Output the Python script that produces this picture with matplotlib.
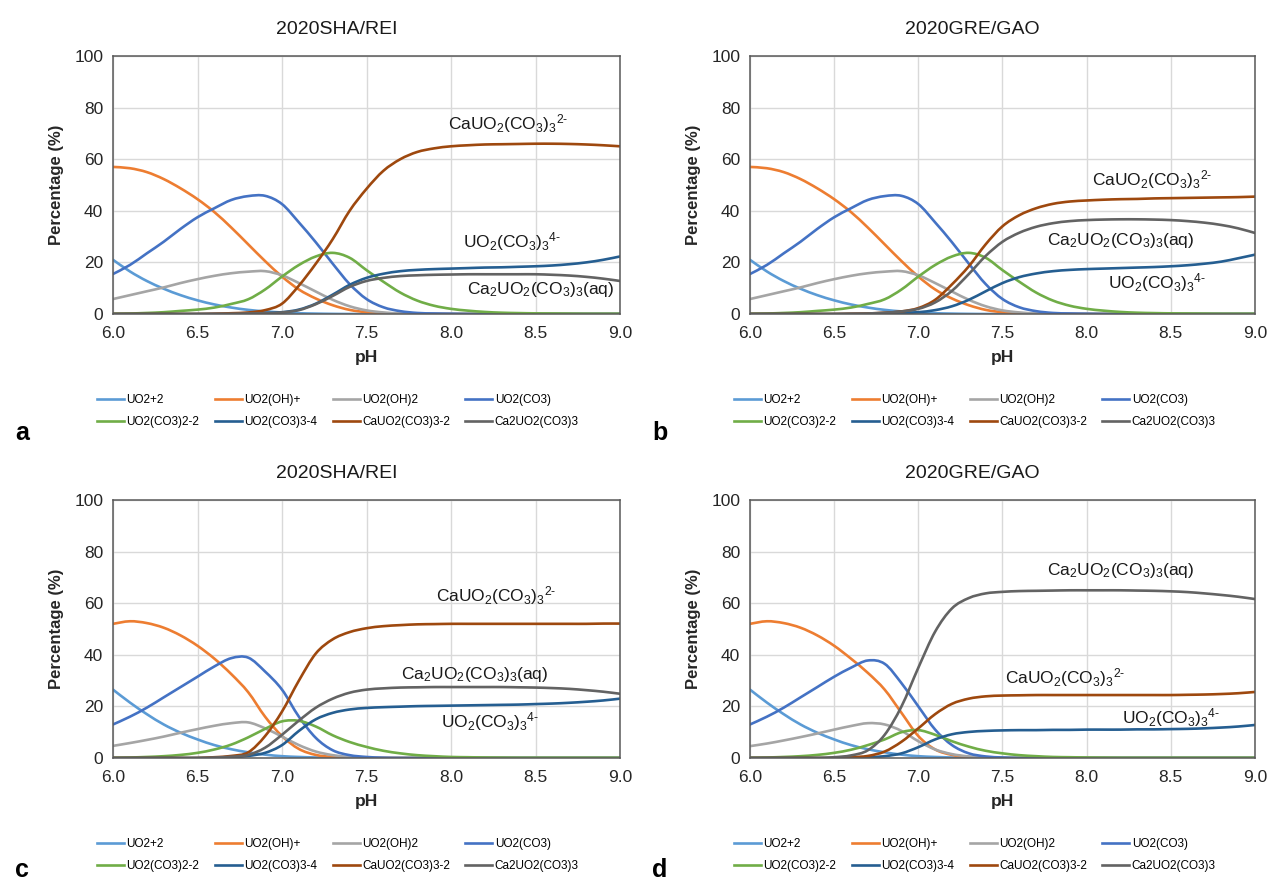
import matplotlib
matplotlib.use("Agg")
import matplotlib.pyplot as plt
from matplotlib.path import Path
from matplotlib.patches import PathPatch
from matplotlib.lines import Line2D

plt.rcParams['font.family'] = ['Liberation Sans', 'DejaVu Sans']
plt.rcParams['mathtext.fontset'] = 'custom'
plt.rcParams['mathtext.rm'] = 'Liberation Sans'
plt.rcParams['mathtext.it'] = 'Liberation Sans'

# pH grid
ph = [6.0, 6.1, 6.2, 6.3, 6.4, 6.5, 6.6, 6.7, 6.8, 6.9, 7.0, 7.1, 7.2, 7.3, 7.4, 7.5,
      7.6, 7.7, 7.8, 7.9, 8.0, 8.1, 8.2, 8.3, 8.4, 8.5, 8.6, 8.7, 8.8, 8.9, 9.0]

species = ['UO2+2', 'UO2(OH)+', 'UO2(OH)2', 'UO2(CO3)',
           'UO2(CO3)2-2', 'UO2(CO3)3-4', 'CaUO2(CO3)3-2', 'Ca2UO2(CO3)3']
colors = ['#5B9BD5', '#ED7D31', '#A5A5A5', '#4472C4',
          '#70AD47', '#255E91', '#9E480E', '#636363']

# panel a  (2020SHA/REI, top)
a_uo2 = [21.0, 16.5, 12.8, 9.8, 7.3, 5.3, 3.7, 2.5, 1.6, 1.0, 0.6, 0.3, 0.15, 0.05,
         0, 0, 0, 0, 0, 0, 0, 0, 0, 0, 0, 0, 0, 0, 0, 0, 0]
a_oh = [57.0, 56.5, 55.0, 52.3, 48.7, 44.5, 39.5, 33.5, 27.0, 20.5, 14.5, 9.5, 6.0, 3.4,
        1.6, 0.7, 0.3, 0.1, 0, 0, 0, 0, 0, 0, 0, 0, 0, 0, 0, 0, 0]
a_oh2 = [5.8, 7.3, 8.8, 10.3, 12.0, 13.5, 14.8, 15.8, 16.4, 16.6, 15.0, 12.0, 8.7, 5.5,
         3.0, 1.4, 0.6, 0.2, 0.1, 0, 0, 0, 0, 0, 0, 0, 0, 0, 0, 0, 0]
a_co3 = [15.5, 19.0, 23.5, 28.0, 33.0, 37.5, 41.0, 44.2, 45.7, 45.8, 42.6, 35.5, 27.8, 19.5,
         11.6, 5.8, 2.6, 1.1, 0.4, 0.2, 0.1, 0, 0, 0, 0, 0, 0, 0, 0, 0, 0]
a_co3_2 = [0.1, 0.2, 0.4, 0.7, 1.2, 1.7, 2.5, 3.9, 5.7, 9.5, 14.5, 19.0, 22.3, 23.7, 21.8,
           17.0, 12.5, 8.3, 5.2, 3.2, 2.0, 1.3, 0.8, 0.5, 0.35, 0.25, 0.2, 0.15, 0.1, 0.1, 0.1]
a_co3_3 = [0, 0, 0, 0, 0, 0, 0.05, 0.1, 0.2, 0.4, 0.7, 1.7, 4.0, 7.5, 11.3, 14.0, 15.6,
           16.6, 17.1, 17.4, 17.6, 17.8, 18.0, 18.1, 18.3, 18.5, 18.8, 19.3, 20.0, 21.0, 22.3]
a_ca = [0, 0, 0, 0, 0, 0, 0.1, 0.3, 0.6, 1.5, 4.0, 11.0, 19.5, 29.0, 40.0, 48.5, 55.5,
        60.0, 62.8, 64.2, 65.0, 65.4, 65.7, 65.8, 65.9, 66.0, 66.0, 65.9, 65.7, 65.4, 65.0]
a_ca2 = [0, 0, 0, 0, 0, 0, 0.05, 0.1, 0.2, 0.3, 0.6, 1.5, 3.8, 7.0, 10.5, 12.8, 14.0,
         14.7, 15.0, 15.2, 15.3, 15.4, 15.4, 15.4, 15.4, 15.4, 15.2, 14.9, 14.4, 13.7, 12.8]

# panel b  (2020GRE/GAO, top) - first five species same as panel a
b_uo2 = a_uo2
b_oh = a_oh
b_oh2 = a_oh2
b_co3 = a_co3
b_co3_2 = a_co3_2
b_co3_3 = [0, 0, 0, 0, 0, 0, 0.05, 0.1, 0.2, 0.3, 0.7, 1.5, 3.0, 5.5, 8.8, 12.0, 14.3,
           15.7, 16.6, 17.1, 17.4, 17.6, 17.8, 18.0, 18.2, 18.5, 18.9, 19.5, 20.3, 21.6, 23.0]
b_ca = [0, 0, 0, 0, 0, 0, 0.1, 0.2, 0.5, 1.0, 2.3, 5.5, 11.5, 18.5, 27.0, 34.0, 38.3,
        41.0, 42.7, 43.6, 44.0, 44.3, 44.5, 44.6, 44.8, 44.9, 45.0, 45.1, 45.2, 45.3, 45.5]
b_ca2 = [0, 0, 0, 0, 0, 0, 0.1, 0.2, 0.5, 1.0, 2.0, 4.5, 9.0, 15.5, 22.5, 28.0, 31.5,
         33.8, 35.2, 36.0, 36.4, 36.6, 36.7, 36.7, 36.6, 36.4, 36.0, 35.4, 34.5, 33.2, 31.4]

# panel c  (2020SHA/REI, bottom)
c_uo2 = [26.5, 21.5, 17.0, 13.0, 9.8, 7.2, 5.0, 3.4, 2.2, 1.3, 0.7, 0.4, 0.2, 0.1,
         0, 0, 0, 0, 0, 0, 0, 0, 0, 0, 0, 0, 0, 0, 0, 0, 0]
c_oh = [52.0, 53.0, 52.3, 50.5, 47.5, 43.5, 38.5, 32.5, 25.5, 16.0, 8.5, 3.5, 1.2, 0.4,
        0.1, 0, 0, 0, 0, 0, 0, 0, 0, 0, 0, 0, 0, 0, 0, 0, 0]
c_oh2 = [4.7, 5.8, 7.0, 8.3, 9.8, 11.2, 12.5, 13.5, 13.8, 11.5, 8.3, 5.0, 2.5, 1.1,
         0.4, 0.1, 0, 0, 0, 0, 0, 0, 0, 0, 0, 0, 0, 0, 0, 0, 0]
c_co3 = [13.0, 16.0, 19.5, 23.5, 27.5, 31.5, 35.5, 38.7, 38.9, 33.5, 26.5, 16.0, 7.8, 3.0,
         1.1, 0.4, 0.1, 0, 0, 0, 0, 0, 0, 0, 0, 0, 0, 0, 0, 0, 0]
c_co3_2 = [0.1, 0.2, 0.4, 0.7, 1.2, 2.0, 3.3, 5.2, 8.0, 11.3, 14.2, 14.4, 12.2, 8.8, 6.2,
           4.3, 2.8, 1.8, 1.1, 0.7, 0.4, 0.3, 0.2, 0.15, 0.1, 0.1, 0.1, 0.1, 0.1, 0.1, 0.1]
c_co3_3 = [0, 0, 0, 0, 0, 0, 0.1, 0.3, 0.8, 2.0, 5.0, 10.5, 15.0, 17.5, 18.8, 19.4, 19.7,
           19.9, 20.1, 20.2, 20.3, 20.4, 20.5, 20.6, 20.7, 20.9, 21.1, 21.4, 21.8, 22.3, 23.0]
c_ca = [0, 0, 0, 0, 0, 0, 0.3, 0.8, 2.2, 8.5, 18.0, 30.0, 40.5, 46.0, 48.8, 50.3, 51.1,
        51.5, 51.8, 51.9, 52.0, 52.0, 52.0, 52.0, 52.0, 52.0, 52.0, 52.0, 52.0, 52.1, 52.1]
c_ca2 = [0, 0, 0, 0, 0, 0, 0.2, 0.5, 1.2, 4.0, 9.0, 14.5, 19.5, 23.0, 25.3, 26.5, 27.0,
         27.3, 27.4, 27.5, 27.5, 27.5, 27.5, 27.5, 27.4, 27.3, 27.1, 26.8, 26.3, 25.7, 24.9]

# panel d  (2020GRE/GAO, bottom)
d_uo2 = c_uo2
d_oh = [52.0, 53.0, 52.3, 50.5, 47.5, 43.5, 38.5, 33.0, 26.5, 17.5, 8.5, 3.3, 1.2, 0.4,
        0.1, 0, 0, 0, 0, 0, 0, 0, 0, 0, 0, 0, 0, 0, 0, 0, 0]
d_oh2 = [4.6, 5.6, 6.8, 8.1, 9.5, 11.0, 12.4, 13.5, 13.0, 10.5, 6.5, 3.3, 1.5, 0.6,
         0.2, 0, 0, 0, 0, 0, 0, 0, 0, 0, 0, 0, 0, 0, 0, 0, 0]
d_co3 = [13.0, 16.0, 19.5, 23.5, 27.5, 31.5, 35.0, 37.8, 36.5, 29.0, 20.0, 11.0, 5.0, 1.8,
         0.6, 0.2, 0, 0, 0, 0, 0, 0, 0, 0, 0, 0, 0, 0, 0, 0, 0]
d_co3_2 = [0.1, 0.2, 0.4, 0.7, 1.2, 2.0, 3.2, 5.0, 7.2, 10.0, 10.8, 9.0, 6.5, 4.4, 2.8,
           1.8, 1.1, 0.7, 0.4, 0.3, 0.2, 0.15, 0.1, 0.1, 0.1, 0.1, 0.1, 0.1, 0.1, 0.1, 0.1]
d_co3_3 = [0, 0, 0, 0, 0, 0, 0.1, 0.3, 0.7, 1.8, 4.2, 7.2, 9.2, 10.1, 10.5, 10.7, 10.8,
           10.8, 10.9, 10.9, 11.0, 11.0, 11.0, 11.1, 11.1, 11.2, 11.3, 11.5, 11.8, 12.2, 12.8]
d_ca = [0, 0, 0, 0, 0, 0, 0.3, 0.8, 2.5, 6.3, 11.5, 17.0, 21.0, 23.0, 23.9, 24.2, 24.3,
        24.4, 24.4, 24.4, 24.4, 24.4, 24.4, 24.4, 24.4, 24.4, 24.5, 24.6, 24.8, 25.1, 25.6]
d_ca2 = [0, 0, 0, 0, 0, 0.3, 1.0, 3.0, 9.0, 20.0, 35.0, 49.0, 58.0, 62.0, 63.8, 64.4,
         64.7, 64.8, 64.9, 65.0, 65.0, 65.0, 65.0, 64.9, 64.8, 64.6, 64.3, 63.8, 63.2, 62.5, 61.6]

lbl_ca = r'CaUO$_2$(CO$_3$)$_3$$^{2\text{-}}$'
lbl_co3_3 = r'UO$_2$(CO$_3$)$_3$$^{4\text{-}}$'
lbl_ca2 = r'Ca$_2$UO$_2$(CO$_3$)$_3$(aq)'

panels = [
    dict(letter='a', title='2020SHA/REI', pos=[113, 56, 507],
         series=[a_uo2, a_oh, a_oh2, a_co3, a_co3_2, a_co3_3, a_ca, a_ca2],
         notes=[(lbl_ca, 8.34, 74), (lbl_co3_3, 8.36, 28), (lbl_ca2, 8.53, 9.5)]),
    dict(letter='b', title='2020GRE/GAO', pos=[750, 56, 505],
         series=[b_uo2, b_oh, b_oh2, b_co3, b_co3_2, b_co3_3, b_ca, b_ca2],
         notes=[(lbl_ca, 8.39, 52), (lbl_ca2, 8.2, 28.5), (lbl_co3_3, 8.42, 12)]),
    dict(letter='c', title='2020SHA/REI', pos=[113, 500, 507],
         series=[c_uo2, c_oh, c_oh2, c_co3, c_co3_2, c_co3_3, c_ca, c_ca2],
         notes=[(lbl_ca, 8.27, 63), (lbl_ca2, 8.14, 32.5), (lbl_co3_3, 8.23, 14)]),
    dict(letter='d', title='2020GRE/GAO', pos=[750, 500, 505],
         series=[d_uo2, d_oh, d_oh2, d_co3, d_co3_2, d_co3_3, d_ca, d_ca2],
         notes=[(lbl_ca2, 8.2, 72.5), (lbl_ca, 7.87, 31), (lbl_co3_3, 8.5, 15.5)]),
]


def smooth_path(xs, ys):
    # Excel-like smoothed line: Catmull-Rom segments as cubic Bezier curves
    n = len(xs)
    verts = [(xs[0], ys[0])]
    codes = [Path.MOVETO]
    for i in range(n - 1):
        x0, y0 = xs[max(i - 1, 0)], ys[max(i - 1, 0)]
        x1, y1 = xs[i], ys[i]
        x2, y2 = xs[i + 1], ys[i + 1]
        x3, y3 = xs[min(i + 2, n - 1)], ys[min(i + 2, n - 1)]
        verts += [(x1 + (x2 - x0) / 6, y1 + (y2 - y0) / 6),
                  (x2 - (x3 - x1) / 6, y2 - (y3 - y1) / 6),
                  (x2, y2)]
        codes += [Path.CURVE4] * 3
    return Path(verts, codes)


W, H = 1268, 881
fig = plt.figure(figsize=(W / 100, H / 100), dpi=100)

order = [0, 4, 1, 5, 2, 6, 3, 7]  # row-major legend for 4 columns

for p in panels:
    left, top, width = p['pos']
    height = 258
    ax = fig.add_axes([left / W, 1 - (top + height) / H, width / W, height / H])
    handles = []
    for name, vals, col in zip(species, p['series'], colors):
        ax.add_patch(PathPatch(smooth_path(ph, vals), fill=False, edgecolor=col, lw=1.9,
                               capstyle='round', joinstyle='round'))
        handles.append(Line2D([], [], color=col, lw=1.9))
    ax.set_xlim(6.0, 9.0)
    ax.set_ylim(0, 100)
    ax.set_xticks([6.0, 6.5, 7.0, 7.5, 8.0, 8.5, 9.0])
    ax.set_xticklabels(['6.0', '6.5', '7.0', '7.5', '8.0', '8.5', '9.0'])
    ax.set_yticks([0, 20, 40, 60, 80, 100])
    ax.tick_params(length=0, labelsize=12.5, colors='#262626')
    ax.tick_params(axis='x', pad=9)
    ax.tick_params(axis='y', pad=7)
    ax.grid(True, color='#D9D9D9', lw=1)
    ax.set_axisbelow(True)
    for s in ax.spines.values():
        s.set_color('#595959')
        s.set_linewidth(1.1)
    ax.set_ylabel('Percentage (%)', fontsize=12, fontweight='bold', color='#262626')
    ax.yaxis.set_label_coords(-0.097, 0.5)
    ax.set_xlabel('pH', fontsize=12.5, fontweight='bold', color='#262626')
    ax.xaxis.set_label_coords(0.5, -0.14)
    for txt, x, y in p['notes']:
        ax.text(x, y, txt, fontsize=12.5, ha='center', va='center', color='#1a1a1a')

    cx = (left + width / 2 - 30) / W
    fig.text(cx, 1 - (top - 27) / H, p['title'], fontsize=14, ha='center', va='center',
             color='#1a1a1a')
    fig.legend(handles=[handles[i] for i in order], labels=[species[i] for i in order],
               loc='upper left', bbox_to_anchor=((left - 22) / W, 1 - (top + 332) / H),
               ncol=4, frameon=False, fontsize=8.5, handlelength=2.3, handletextpad=0.2,
               columnspacing=1.3, labelspacing=0.85, borderpad=0)
    base = 440 if top < 100 else 877
    fig.text((left - 98) / W, 1 - base / H, p['letter'], fontsize=18,
             fontweight='bold', ha='left', va='baseline')

fig.savefig('out.png', dpi=100)
